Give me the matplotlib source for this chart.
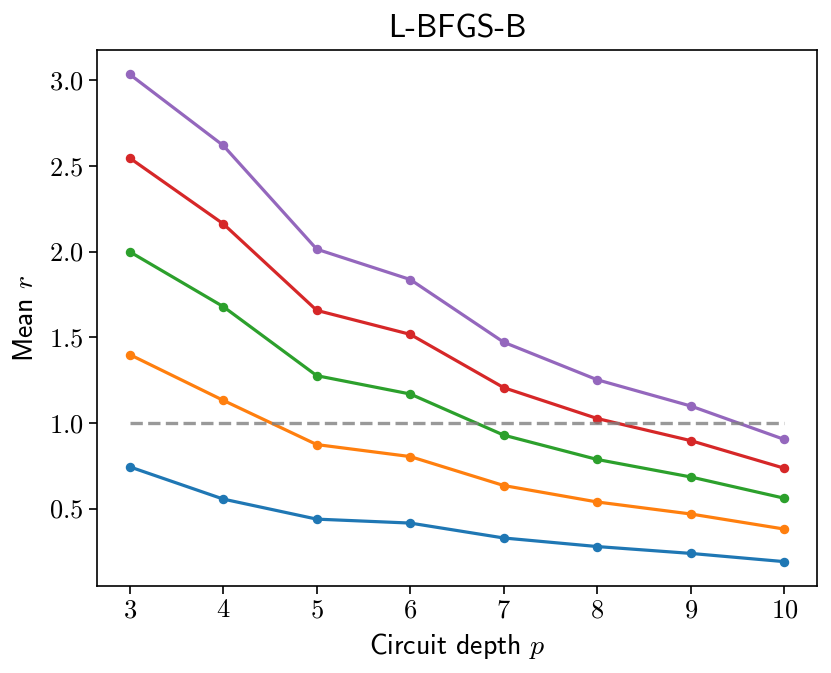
import numpy as np
import matplotlib
matplotlib.use("Agg")
import matplotlib.pyplot as plt
from matplotlib.ticker import FuncFormatter

# Datos
profundidades = [3, 4, 5, 6, 7, 8, 9, 10]
serie_azul = [0.745, 0.557, 0.440, 0.417, 0.330, 0.280, 0.240, 0.192]
serie_naranja = [1.400, 1.133, 0.875, 0.805, 0.636, 0.540, 0.470, 0.382]
serie_verde = [2.000, 1.680, 1.277, 1.170, 0.930, 0.788, 0.686, 0.562]
serie_roja = [2.547, 2.163, 1.658, 1.518, 1.207, 1.027, 0.898, 0.737]
serie_morada = [3.035, 2.620, 2.015, 1.838, 1.472, 1.253, 1.100, 0.905]
nivel_referencia = 1.0

plt.rcParams["mathtext.fontset"] = "cm"
plt.rcParams["axes.unicode_minus"] = False
plt.rcParams["font.family"] = ["cmss10", "DejaVu Sans"]

fig = plt.figure(figsize=(8.31, 6.73), dpi=100)
ax = fig.add_axes([97 / 831, 1 - 586 / 673, 720 / 831, 536 / 673])

colores = ["#1f77b4", "#ff7f0e", "#2ca02c", "#d62728", "#9467bd"]
series = [serie_azul, serie_naranja, serie_verde, serie_roja, serie_morada]
for valores, color in zip(series, colores):
    ax.plot(profundidades, valores, "-o", color=color, lw=2.3, ms=5.8)

ax.plot([profundidades[0], profundidades[-1]], [nivel_referencia] * 2,
        "--", color="gray", alpha=0.8, lw=2.4)

ax.set_xticks(profundidades)
ax.set_yticks([0.5, 1.0, 1.5, 2.0, 2.5, 3.0])
ax.xaxis.set_major_formatter(FuncFormatter(lambda v, _: f"${v:.0f}$"))
ax.yaxis.set_major_formatter(FuncFormatter(lambda v, _: f"${v:.1f}$"))
ax.tick_params(labelsize=19, width=1.2, length=6)
for lado in ax.spines.values():
    lado.set_linewidth(1.2)

ax.set_title("L-BFGS-B", fontsize=23, pad=9)
ax.set_xlabel("Circuit depth $p$", fontsize=20, labelpad=6)
ax.set_ylabel("Mean $r$", fontsize=20, labelpad=8)

fig.savefig("out.png", dpi=100)
